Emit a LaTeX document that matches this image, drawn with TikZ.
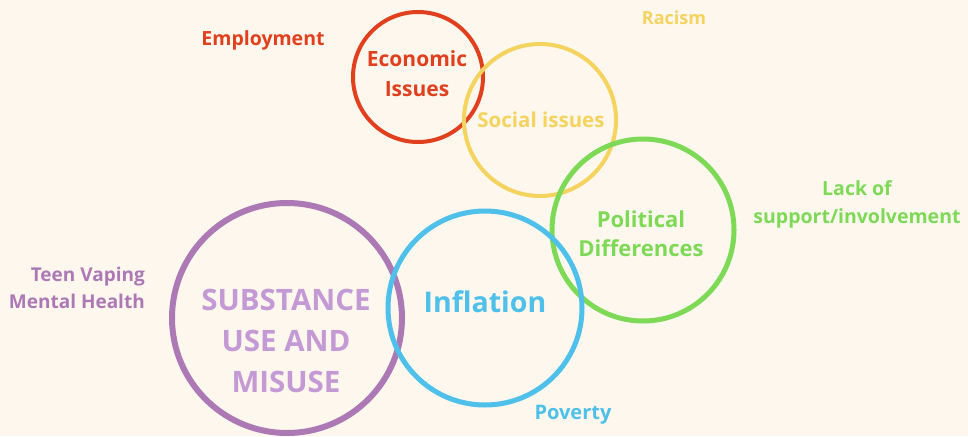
\documentclass[tikz,border=0pt]{standalone}
\usepackage{fontspec}
\setmainfont{Open Sans}
\definecolor{bg}{HTML}{FEF7EE}
\definecolor{cred}{HTML}{E0401E}
\definecolor{cyellow}{HTML}{F4D35E}
\definecolor{cgreen}{HTML}{7ED957}
\definecolor{cpurple}{HTML}{AD79B5}
\definecolor{cpurpletext}{HTML}{C49AD5}
\definecolor{cblue}{HTML}{4EC0EA}
\begin{document}
\begin{tikzpicture}[x=1pt,y=-1pt,
  ring/.style={circle,draw,minimum size=#1,inner sep=0pt},
  lbl/.style={font=\bfseries\fontsize{19.5}{29}\selectfont,align=center,inner sep=0pt}]
\fill[bg] (0,0) rectangle (968,436);
\useasboundingbox (0,0) rectangle (968,436);
% circles
\node[ring=130pt,draw=cred,line width=4pt] (econ) at (418,77) {};
\node[ring=152pt,draw=cyellow,line width=4pt] (soc) at (540,120) {};
\node[ring=182pt,draw=cgreen,line width=5pt] (pol) at (643,230) {};
\node[ring=230pt,draw=cpurple,line width=6pt] (sub) at (287,318) {};
\node[ring=194pt,draw=cblue,line width=5pt] (inf) at (485,308) {};
% circle labels
\node[lbl,text=cred,font=\bfseries\fontsize{21}{30}\selectfont] (econt) at (417,74) {Economic\\Issues};
\node[lbl,text=cyellow,font=\bfseries\fontsize{20.5}{30}\selectfont] (soct) at (541,120) {Social issues};
\node[lbl,text=cgreen,font=\bfseries\fontsize{22}{29}\selectfont] (polt) at (641,234) {Political\\Differences};
\node[lbl,text=cpurpletext,font=\bfseries\fontsize{29.5}{41}\selectfont] (subt) at (286,341) {SUBSTANCE\\USE AND\\MISUSE};
\node[lbl,text=cblue,font=\bfseries\fontsize{28.5}{30}\selectfont] (inft) at (485,302) {Inflation};
% side labels
\node[lbl,text=cred] (emp) at (263,40) {Employment};
\node[lbl,text=cyellow,font=\bfseries\fontsize{18}{20}\selectfont] (rac) at (674,18) {Racism};
\node[lbl,text=cgreen,font=\bfseries\fontsize{19.5}{28}\selectfont] (lack) at (857,204) {Lack of\\support/involvement};
\node[lbl,align=right,anchor=east,text=cpurple,font=\bfseries\fontsize{19}{27}\selectfont] (teen) at (145,288) {Teen Vaping\\Mental Health};
\node[lbl,text=cblue,font=\bfseries\fontsize{20}{24}\selectfont] (pov) at (573,415) {Poverty};
\end{tikzpicture}
\end{document}
